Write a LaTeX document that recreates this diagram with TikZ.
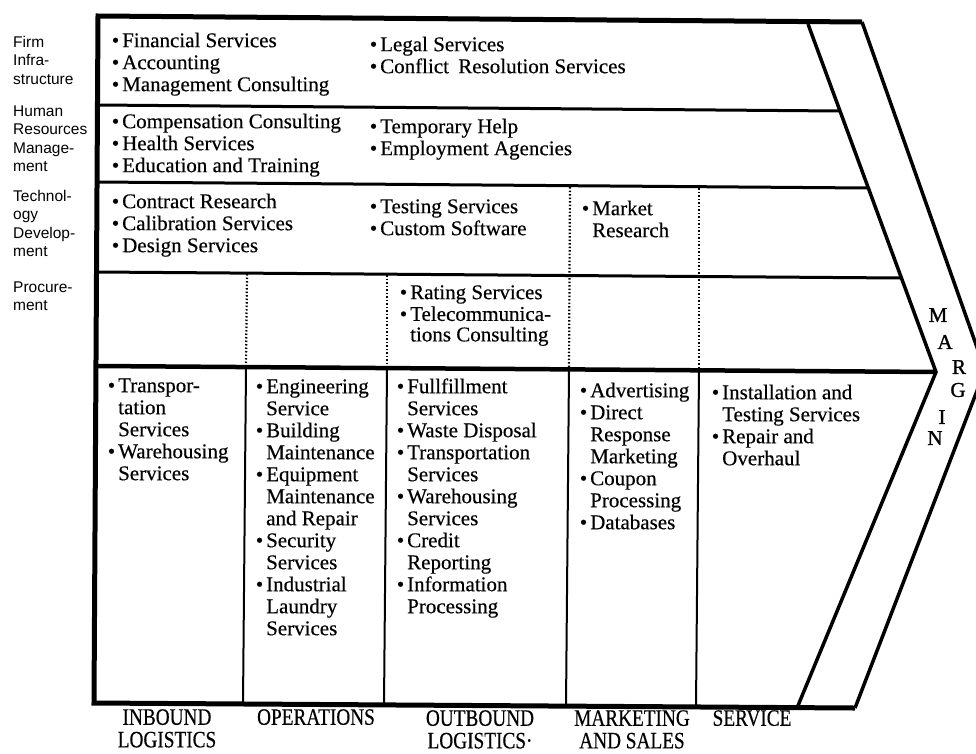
\documentclass[tikz,border=0pt]{standalone}
\usepackage{fontspec}
\setmainfont{Liberation Serif}[FakeBold=0.4]
\newfontfamily\sidefam{Liberation Sans}
\newfontfamily\actfam[FakeStretch=0.82,FakeBold=0.4]{Liberation Serif}
\newfontfamily\margfam{Liberation Serif}[FakeBold=1.2]
\newcommand\itemfont{\fontsize{21}{22}\selectfont}
\newcommand\sidefont{\sidefam\fontsize{15.5}{18.5}\selectfont}
\newcommand\actfont{\actfam\fontsize{23.5}{20}\selectfont}
\newcommand\vcbul{\llap{\textbullet\kern3pt}}
\tikzset{
  frameline/.style={line width=5pt, line join=miter},
  rowline/.style={line width=3pt},
  primline/.style={line width=4.5pt},
  colline/.style={line width=2pt},
  dotline/.style={line width=2.2pt, dash pattern=on 1.5pt off 2pt},
  chevline/.style={line width=3.5pt, line join=miter},
  item/.style={anchor=north west, inner sep=0pt, align=left, font=\itemfont},
  side/.style={anchor=north west, inner sep=0pt, align=left, font=\sidefont},
  act/.style={anchor=north, inner sep=0pt, align=center, font=\actfont},
  marg/.style={inner sep=0pt, font=\margfam\fontsize{21}{21}\selectfont},
}
\begin{document}
\begin{tikzpicture}[x=1pt,y=-1pt]
\useasboundingbox (0,0) rectangle (976,753);
% chevron and frame coordinates
\coordinate (tl) at (98,16);
\coordinate (bl) at (94,703);
\coordinate (to) at (862,22);
\coordinate (ti) at (808,24);
\coordinate (ap) at (936,372);
\coordinate (ao) at (985,370);
\coordinate (bi) at (797,708);
\coordinate (bo) at (855,708);
% row boundaries
\coordinate (r1l) at (97,105);  \coordinate (r1r) at (840,111);
\coordinate (r2l) at (97,182);  \coordinate (r2r) at (868,188);
\coordinate (r3l) at (97,272);  \coordinate (r3r) at (901,278);
\coordinate (r4l) at (97,366);
% frame
\draw[frameline] (to) -- (tl) -- (bl) -- (bo);
\draw[chevline] (ti) -- (ap) -- (bi);
\draw[chevline] (to) -- (ao) -- (bo);
\draw[rowline] (r1l) -- (r1r);
\draw[rowline] (r2l) -- (r2r);
\draw[rowline] (r3l) -- (r3r);
\draw[primline] (r4l) -- (ap);
% primary activity columns
\coordinate (c1t) at (246,367); \coordinate (c1b) at (243,704);
\coordinate (c2t) at (387,368); \coordinate (c2b) at (384,705);
\coordinate (c3t) at (569,369); \coordinate (c3b) at (566,706);
\coordinate (c4t) at (699,370); \coordinate (c4b) at (696,707);
\draw[colline] (c1t) -- (c1b);
\draw[colline] (c2t) -- (c2b);
\draw[colline] (c3t) -- (c3b);
\draw[colline] (c4t) -- (c4b);
% dotted dividers
\coordinate (d1t) at (247,274); \coordinate (d1b) at (246,365);
\coordinate (d2t) at (387,275); \coordinate (d2b) at (387,366);
\coordinate (d3t) at (570,187); \coordinate (d3b) at (569,367);
\coordinate (d4t) at (699,188); \coordinate (d4b) at (699,368);
\draw[dotline] (d1t) -- (d1b);
\draw[dotline] (d2t) -- (d2b);
\draw[dotline] (d3t) -- (d3b);
\draw[dotline] (d4t) -- (d4b);
% side labels
\node[side] (sfirm) at (13,34) {\strut Firm\\Infra-\\structure};
\node[side] (shrm) at (13,103) {\strut Human\\Resources\\Manage-\\ment};
\node[side] (stech) at (13,188) {\strut Technol-\\ogy\\Develop-\\ment};
\node[side] (sproc) at (13,279) {\strut Procure-\\ment};
% support activities
\node[item] (fa) at (122,31.6) {\strut\vcbul Financial Services\\\vcbul Accounting\\\vcbul Management Consulting};
\node[item] (fb) at (380,35.6) {\strut\vcbul Legal Services\\\vcbul Conflict\hspace{4pt} Resolution Services};
\node[item] (ha) at (122,112.6) {\strut\vcbul Compensation Consulting\\\vcbul Health Services\\\vcbul Education and Training};
\node[item] (hb) at (380,117.6) {\strut\vcbul Temporary Help\\\vcbul Employment Agencies};
\node[item] (ta) at (122,192.6) {\strut\vcbul Contract Research\\\vcbul Calibration Services\\\vcbul Design Services};
\node[item] (tb) at (380,197.6) {\strut\vcbul Testing Services\\\vcbul Custom Software};
\node[item] (tc) at (592,199.6) {\strut\vcbul Market\\Research};
\node[item, font=\fontsize{21}{20.5}\selectfont] (pa) at (410,284.6) {\strut\vcbul Rating Services\\\vcbul Telecommunica-\\tions Consulting};
% primary activities
\node[item] (p1) at (118,376.6) {\strut\vcbul Transpor-\\tation\\Services\\\vcbul Warehousing\\Services};
\node[item] (p2) at (266,377.6) {\strut\vcbul Engineering\\Service\\\vcbul Building\\Maintenance\\\vcbul Equipment\\Maintenance\\and Repair\\\vcbul Security\\Services\\\vcbul Industrial\\Laundry\\Services};
\node[item] (p3) at (407,377.6) {\strut\vcbul Fullfillment\\Services\\\vcbul Waste Disposal\\\vcbul Transportation\\Services\\\vcbul Warehousing\\Services\\\vcbul Credit\\Reporting\\\vcbul Information\\Processing};
\node[item] (p4) at (590,381.6) {\strut\vcbul Advertising\\\vcbul Direct\\Response\\Marketing\\\vcbul Coupon\\Processing\\\vcbul Databases};
\node[item] (p5) at (722,383.6) {\strut\vcbul Installation and\\Testing Services\\\vcbul Repair and\\Overhaul};
% margin
\node[marg] (m1) at (938,315) {M};
\node[marg] (m2) at (945,342) {A};
\node[marg] (m3) at (959,367) {R};
\node[marg] (m4) at (958,390) {G};
\node[marg] (m5) at (942,417) {I};
\node[marg] (m6) at (935,438) {N};
% primary activity names
\node[act] (ain) at (167,709) {\strut INBOUND\\LOGISTICS};
\node[act] (aop) at (316,709) {\strut OPERATIONS};
\node[act] (aout) at (480,710) {\strut OUTBOUND\\LOGISTICS·};
\node[act] (amk) at (632,710) {\strut MARKETING\\AND SALES};
\node[act] (asv) at (752,710) {\strut SERVICE};
\end{tikzpicture}
\end{document}
